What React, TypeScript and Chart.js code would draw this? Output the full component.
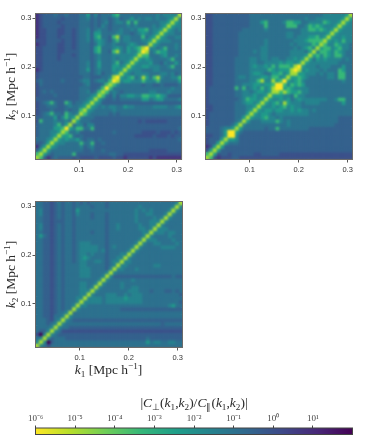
import React, { useEffect, useRef } from "react";
import { Chart, registerables } from "chart.js";

Chart.register(...registerables);

// Colour levels. Each string is one row of k2 (top row first),
// from the left edge up to the diagonal. The matrix is symmetric.
const panelARows = [
  "1233343343 3344635344 4674444444 4445455558",
  "1233333233 3344534344 3453446454 554544568",
  "1233332333 3344434345 3455474744 44445568",
  "1233333233 3344434354 3444454544 4454568",
  "1223332233 2344534544 3445445466 745568",
  "1223332233 2344536644 4455443456 54568",
  "1223332333 2344536744 3784554447 4568",
  "2223333233 2344535654 3574554445 568",
  "1223332233 2344434654 4544456544 58",
  "2233332233 2344436744 4565465678 9",
  "2233332233 3344436744 3785465579",
  "2233332333 2344434544 455555568",
  "2233332333 3344434544 45455568",
  "2233333333 3344534644 4574568",
  "2233333333 3344534644 466568",
  "1233333333 3344634544 46568",
  "2333333333 3344434534 4568",
  "2333333333 3334433344 589",
  "3433333433 3345534554 79",
  "2433333333 3334533347 8",
  "2333333333 3344433479",
  "2343433333 334453478",
  "2333343333 33444568",
  "3333333333 3344568",
  "2345743375 344568",
  "2334443345 44568",
  "2333433343 4478",
  "2345744375 458",
  "3344463575 68",
  "2744454454 8",
  "3444457468",
  "344446679",
  "34445568",
  "3444568",
  "444568",
  "33468",
  "1468",
  "368",
  "78",
  "8",
];

const panelBRows = [
  "2233333333 3344444444 4444444444 4455555568",
  "2233333333 3344444444 4444444544 555555568",
  "2233333333 3344467444 4577664455 55765568",
  "2233333333 3344447444 4477744576 7655568",
  "2233333333 4444445444 4444445577 676568",
  "2233333334 4444444444 4455445555 55568",
  "2233333334 4444444444 4455455566 7568",
  "2233333334 4444445444 4444555677 778",
  "2233333334 4444445444 4445455557 68",
  "2233333334 4444455444 4444545675 8",
  "2233333334 4445455444 4445555468",
  "2233333334 4444455444 444555568",
  "2233333344 4455455455 44556568",
  "2233333344 4455445555 6566568",
  "2233333344 4456556575 777689",
  "2233333344 4455555765 66689",
  "2233333344 4456654466 7568",
  "2233333345 5455566577 568",
  "2233333344 4455785586 79",
  "2233333344 5556656679 9",
  "2333333374 7456575689",
  "2333333344 554566568",
  "2333333344 55565568",
  "2333333334 5766568",
  "2333333344 566568",
  "2233333344 45568",
  "2233333344 4568",
  "2333333344 468",
  "2333333344 68",
  "2333333345 8",
  "2333333468",
  "333345568",
  "33334699",
  "2233469",
  "233368",
  "23368",
  "1268",
  "268",
  "78",
  "8",
];

const panelCRows = [
  "4433234344 3434344443 4444444444 4444444458",
  "4433234344 3444434443 4444444454 444444458",
  "4533234344 3644444444 4444444545 45444458",
  "4533234344 3544434443 4444444544 5544458",
  "4433234344 3444434443 4444444544 445458",
  "4433233344 3444444443 4444444544 45558",
  "4533234344 3444444443 4454444454 4558",
  "4533234344 3444444443 4454444455 458",
  "4433234344 3444434443 4444444445 58",
  "4643234344 3444444443 4444444445 8",
  "4433234344 3444444443 4444444458",
  "4433234344 3455544443 444444458",
  "4433234344 3455555443 45444458",
  "4433234344 3455555453 4444458",
  "4433234344 3455454443 444558",
  "4433234344 3456544443 44558",
  "4433234344 3455445543 4558",
  "4433234344 4455444443 458",
  "4433234344 4455544443 58",
  "4433234344 4455544445 8",
  "4433234344 4455544458",
  "4433234344 444444458",
  "4433234344 44554458",
  "4433234344 4455458",
  "4433234344 445558",
  "4433234344 44558",
  "4433234344 4558",
  "4433234344 458",
  "4433234344 58",
  "4433234344 8",
  "4433234458",
  "443324458",
  "44432458",
  "4443458",
  "444458",
  "43358",
  "2058",
  "458",
  "58",
  "8",
];

const kMin = 0.01;
const kMax = 0.31;
const kStep = 0.0075;
const kTicks = [0.1, 0.2, 0.3];
const logMin = -6;
const logMax = 2;
const levelPositions = [0, 0.15, 0.25, 0.31, 0.37, 0.45, 0.54, 0.67, 0.86, 1];
const colorbarTicks = [1e-6, 1e-5, 1e-4, 1e-3, 1e-2, 1e-1, 1e0, 1e1];
const colorbarLabels = ["10⁻⁶", "10⁻⁵", "10⁻⁴", "10⁻³", "10⁻²", "10⁻¹", "10⁰", "10¹"];
const viridis = ["#440154", "#482878", "#3e4989", "#31688e", "#26828e", "#1f9e89", "#35b779", "#6ece58", "#b5de2b", "#fde725"];

const SERIF = '"Liberation Serif"';
const SANS = '"Liberation Sans"';

type Seg = { t: string; it?: boolean; sub?: boolean; sup?: boolean };
const ylabelSegs: Seg[] = [{ t: "k", it: true }, { t: "2", sub: true }, { t: " [Mpc h" }, { t: "−1", sup: true }, { t: "]" }];
const xlabelSegs: Seg[] = [{ t: "k", it: true }, { t: "1", sub: true }, { t: " [Mpc h" }, { t: "−1", sup: true }, { t: "]" }];
const cbarSegs: Seg[] = [
  { t: "|" }, { t: "C", it: true }, { t: "⊥", sub: true }, { t: "(" }, { t: "k", it: true }, { t: "1", sub: true }, { t: "," },
  { t: "k", it: true }, { t: "2", sub: true }, { t: ")/" }, { t: "C", it: true }, { t: "∥", sub: true }, { t: "(" },
  { t: "k", it: true }, { t: "1", sub: true }, { t: "," }, { t: "k", it: true }, { t: "2", sub: true }, { t: ")|" },
];

function hexRgb(h: string) {
  return [1, 3, 5].map((i) => parseInt(h.slice(i, i + 2), 16));
}
function viridisAt(t: number) {
  const p = Math.max(0, Math.min(1, t)) * (viridis.length - 1);
  const i = Math.min(viridis.length - 2, Math.floor(p));
  const a = hexRgb(viridis[i]);
  const b = hexRgb(viridis[i + 1]);
  const f = p - i;
  return `rgb(${a.map((v, n) => Math.round(v + (b[n] - v) * f)).join(",")})`;
}
function valueColor(v: number) {
  return viridisAt((logMax - Math.log10(v)) / (logMax - logMin));
}

function rowsToPoints(rows: string[]) {
  const pts: { x: number; y: number; v: number }[] = [];
  const n = rows.length;
  rows.forEach((raw, r) => {
    const row = raw.replace(/ /g, "");
    const j = n - 1 - r;
    for (let i = 0; i < row.length; i++) {
      const t = levelPositions[Number(row[i])];
      const v = Math.pow(10, logMax - (logMax - logMin) * t);
      const x = kMin + kStep * (i + 0.5);
      const y = kMin + kStep * (j + 0.5);
      pts.push({ x, y, v });
      if (i !== j) pts.push({ x: y, y: x, v });
    }
  });
  return pts;
}

function drawSegs(ctx: CanvasRenderingContext2D, segs: Seg[], cx: number, cy: number, size: number, rot: number) {
  ctx.save();
  ctx.translate(cx, cy);
  ctx.rotate(rot);
  ctx.fillStyle = "#2a2a2a";
  ctx.textBaseline = "alphabetic";
  ctx.textAlign = "left";
  const fontOf = (s: Seg) => `${s.it ? "italic " : ""}${s.sub || s.sup ? size * 0.68 : size}px ${SERIF}`;
  let w = 0;
  segs.forEach((s) => {
    ctx.font = fontOf(s);
    w += ctx.measureText(s.t).width;
  });
  let x = -w / 2;
  segs.forEach((s) => {
    ctx.font = fontOf(s);
    ctx.fillText(s.t, x, size * 0.33 + (s.sub ? size * 0.2 : s.sup ? -size * 0.38 : 0));
    x += ctx.measureText(s.t).width;
  });
  ctx.restore();
}

function heatmapConfig(rows: string[], box: { l: number; r: number; t: number; b: number }, titleX: number | null, xlabel: boolean, w: number, h: number): any {
  return {
    type: "scatter",
    data: {
      datasets: [
        {
          data: rowsToPoints(rows),
          pointStyle: "rect",
          borderWidth: 0,
          pointRadius: (c: any) => {
            const s = c.chart.scales.x;
            if (!s) return 3;
            return (Math.abs(s.getPixelForValue(kMin + kStep) - s.getPixelForValue(kMin)) / 2 + 0.2) * Math.SQRT2;
          },
          backgroundColor: (c: any) => (c.raw ? valueColor(c.raw.v) : "#000"),
        },
      ],
    },
    options: {
      animation: false,
      responsive: false,
      events: [],
      layout: { padding: { left: 0, top: box.t, right: w - box.r, bottom: 0 } },
      plugins: { legend: { display: false }, tooltip: { enabled: false } },
      scales: {
        x: {
          type: "linear",
          min: kMin,
          max: kMax,
          afterBuildTicks: (s: any) => { s.ticks = kTicks.map((value) => ({ value })); },
          afterFit: (s: any) => { s.height = h - box.b; },
          grid: { drawOnChartArea: false, tickLength: 3, color: "#555" },
          border: { color: "#666" },
          ticks: { font: { family: SANS, size: 7.5 }, color: "#333", padding: 3, maxRotation: 0, autoSkip: false, callback: (v: number) => v.toFixed(1) },
        },
        y: {
          type: "linear",
          min: kMin,
          max: kMax,
          afterBuildTicks: (s: any) => { s.ticks = kTicks.map((value) => ({ value })); },
          afterFit: (s: any) => { s.width = box.l; },
          grid: { drawOnChartArea: false, tickLength: 3, color: "#555" },
          border: { color: "#666" },
          ticks: { font: { family: SANS, size: 7.5 }, color: "#333", padding: 1, autoSkip: false, callback: (v: number) => v.toFixed(1) },
        },
      },
    },
    plugins: [
      {
        id: "softenAndFrame",
        afterDatasetsDraw(chart: any) {
          const { ctx, chartArea: a, canvas } = chart;
          ctx.save();
          ctx.beginPath();
          ctx.rect(a.left, a.top, a.right - a.left, a.bottom - a.top);
          ctx.clip();
          ctx.filter = "blur(1.1px)";
          ctx.drawImage(canvas, a.left, a.top, a.right - a.left, a.bottom - a.top, a.left, a.top, a.right - a.left, a.bottom - a.top);
          ctx.restore();
          ctx.save();
          ctx.strokeStyle = "#6a6a6a";
          ctx.lineWidth = 1;
          ctx.strokeRect(a.left, a.top, a.right - a.left, a.bottom - a.top);
          ctx.restore();
        },
        afterDraw(chart: any) {
          const { ctx, chartArea: a } = chart;
          const cy = (a.top + a.bottom) / 2;
          if (titleX !== null) drawSegs(ctx, ylabelSegs, titleX, cy, 13.5, -Math.PI / 2);
          if (xlabel) drawSegs(ctx, xlabelSegs, (a.left + a.right) / 2 - 0.5, a.bottom + 22.5, 13.5, 0);
        },
      },
    ],
  };
}

function colorbarConfig(): any {
  return {
    type: "bar",
    data: {
      labels: ["scale"],
      datasets: [
        {
          data: [[Math.pow(10, logMin), Math.pow(10, logMax)]],
          barPercentage: 1,
          categoryPercentage: 1,
          borderWidth: 0,
          backgroundColor: (c: any) => {
            const { ctx, chartArea } = c.chart;
            if (!chartArea) return "#888";
            const g = ctx.createLinearGradient(chartArea.left, 0, chartArea.right, 0);
            viridis.forEach((col, i) => g.addColorStop(1 - i / (viridis.length - 1), col));
            return g;
          },
        },
      ],
    },
    options: {
      indexAxis: "y",
      animation: false,
      responsive: false,
      events: [],
      layout: { padding: { left: 35.5, right: 36.5, top: 0, bottom: 2.5 } },
      plugins: { legend: { display: false }, tooltip: { enabled: false } },
      scales: {
        x: {
          type: "logarithmic",
          position: "top",
          min: Math.pow(10, logMin),
          max: Math.pow(10, logMax),
          afterBuildTicks: (s: any) => { s.ticks = colorbarTicks.map((value) => ({ value })); },
          afterFit: (s: any) => { s.height = 43; },
          grid: { drawOnChartArea: false, tickLength: 2.5, color: "#444" },
          border: { display: false },
          ticks: {
            font: { family: SERIF, size: 9 },
            color: "#444",
            padding: 1,
            maxRotation: 0,
            autoSkip: false,
            callback: (v: number) => colorbarLabels[colorbarTicks.findIndex((t) => Math.abs(Math.log10(t) - Math.log10(v)) < 1e-6)] ?? "",
          },
        },
        y: { type: "category", display: false },
      },
    },
    plugins: [
      {
        id: "barFrame",
        afterDatasetsDraw(chart: any) {
          const { ctx, chartArea: a } = chart;
          ctx.save();
          ctx.strokeStyle = "#444";
          ctx.lineWidth = 1;
          ctx.strokeRect(a.left, a.top, a.right - a.left, a.bottom - a.top);
          ctx.restore();
        },
        afterDraw(chart: any) {
          drawSegs(chart.ctx, cbarSegs, 194, 18, 13.5, 0);
        },
      },
    ],
  };
}

const absolute = (left: number, top: number): React.CSSProperties => ({ position: "absolute", left, top, display: "block" });

export default function App() {
  const a = useRef<HTMLCanvasElement>(null);
  const b = useRef<HTMLCanvasElement>(null);
  const c = useRef<HTMLCanvasElement>(null);
  const d = useRef<HTMLCanvasElement>(null);
  useEffect(() => {
    const charts = [
      new Chart(a.current!, heatmapConfig(panelARows, { l: 35.5, r: 182.5, t: 13.5, b: 159.5 }, 10.5, false, 185, 190)),
      new Chart(b.current!, heatmapConfig(panelBRows, { l: 25.5, r: 172.5, t: 13.5, b: 159.5 }, null, false, 209, 190)),
      new Chart(c.current!, heatmapConfig(panelCRows, { l: 35.5, r: 182.5, t: 11.5, b: 157.5 }, 10.5, true, 195, 195)),
      new Chart(d.current!, colorbarConfig()),
    ];
    return () => charts.forEach((ch) => ch.destroy());
  }, []);
  return (
    <div style={{ position: "absolute", left: 0, top: 0, width: 389, height: 437, background: "#fff", overflow: "hidden" }}>
      <canvas ref={a} width={185} height={190} style={absolute(0, 0)} />
      <canvas ref={b} width={209} height={190} style={absolute(180, 0)} />
      <canvas ref={c} width={195} height={195} style={absolute(0, 190)} />
      <canvas ref={d} width={389} height={52} style={absolute(0, 385)} />
    </div>
  );
}
